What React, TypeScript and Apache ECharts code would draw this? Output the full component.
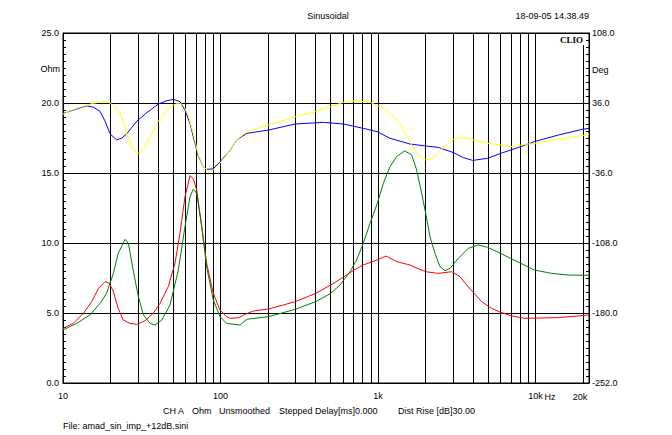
import React, { useEffect, useRef } from "react";
import * as echarts from "echarts";

// ---- data ----
const redFreq = [10, 11.6, 13.5, 15.2, 16.8, 18.5, 19.7, 20.9, 22.4, 24.1, 26.6, 29.4, 33.2, 37.4, 41.3, 46.6, 51.4, 55.3, 59.5, 64.0, 67.2, 70.6, 76.0, 81.7, 90.0, 99.3, 109.4, 115, 127, 133, 140, 161.6, 202, 250, 298, 402, 501, 602, 704, 806, 990, 1124, 1314, 1597, 1717, 2009, 2415, 2938, 3316, 3658, 3993, 4554, 5272, 6012, 6958, 8577, 13956, 18700, 21870];
const redOhm = [3.9, 4.26, 4.98, 5.8, 6.76, 7.24, 7.12, 6.52, 5.33, 4.5, 4.26, 4.19, 4.45, 4.98, 5.69, 6.88, 8.55, 10.7, 13.3, 14.8, 14.6, 13.8, 11.2, 8.55, 6.4, 5.2, 4.74, 4.62, 4.65, 4.7, 4.86, 5.14, 5.29, 5.57, 5.81, 6.4, 7.0, 7.55, 8.07, 8.43, 8.79, 9.07, 8.67, 8.43, 8.26, 7.95, 7.83, 7.95, 7.6, 7.0, 6.52, 5.81, 5.33, 5.05, 4.81, 4.62, 4.67, 4.79, 4.86];

const greenFreq = [10, 12.2, 14.8, 17.2, 18.9, 20.9, 22.4, 24.8, 26.0, 27.9, 30.1, 32.4, 35.7, 38.4, 42.4, 47.8, 54.0, 59.5, 64.0, 67.2, 70.6, 76.0, 81.7, 90.0, 99.3, 109.4, 133, 147, 202, 298, 402, 501, 574, 664, 732, 806, 890, 990, 1081, 1192, 1314, 1447, 1484, 1637, 1761, 1894, 2009, 2139, 2301, 2476, 2664, 2865, 3234, 3744, 4334, 4973, 6012, 6958, 8054, 9826, 12676, 16157, 21870];
const greenOhm = [3.79, 4.26, 4.86, 5.69, 6.4, 7.84, 9.26, 10.26, 9.98, 8.07, 6.17, 4.86, 4.26, 4.14, 4.5, 5.57, 8.07, 11.16, 13.3, 13.84, 13.55, 11.16, 8.3, 5.93, 4.74, 4.26, 4.14, 4.55, 4.74, 5.26, 5.81, 6.4, 7.0, 7.95, 8.79, 9.98, 11.4, 12.83, 14.26, 15.45, 16.17, 16.52, 16.57, 16.29, 15.21, 13.55, 12.12, 10.45, 9.26, 8.31, 8.02, 8.19, 8.9, 9.62, 9.86, 9.69, 9.26, 8.9, 8.55, 8.07, 7.83, 7.71, 7.69];

const blueFreq = [10, 12.8, 14.1, 15.6, 17.2, 18.5, 19.9, 21.9, 23.6, 25.4, 29.4, 34.0, 40.3, 45.5, 50.1, 55.3, 59.5, 64.0, 68.9, 72.3, 77.8, 81.7, 90.0, 99.3, 114.8, 126.8, 146.7, 202, 298, 450, 602, 806, 990, 1192, 1597, 2009, 2415, 3024, 3480, 3993, 4973, 6012, 6958, 8054, 9826, 13956, 19830, 21870];
const blueOhm = [19.25, 19.65, 19.8, 19.7, 19.4, 18.7, 17.8, 17.36, 17.5, 17.8, 18.7, 19.3, 19.93, 20.16, 20.26, 20.1, 19.5, 18.55, 17.1, 16.2, 15.45, 15.26, 15.3, 15.8, 16.6, 17.36, 17.83, 18.07, 18.5, 18.62, 18.5, 18.19, 17.95, 17.48, 17.07, 16.93, 16.83, 16.45, 16.1, 15.9, 16.05, 16.4, 16.64, 16.88, 17.24, 17.71, 18.12, 18.19];

const yellowFreq = [10, 11.1, 12.8, 15.6, 18.0, 19.9, 21.9, 23.6, 25.4, 27.3, 29.6, 32.4, 35.7, 40.3, 45.5, 50.1, 54.7, 58.0, 62.5, 67.2, 72.3, 77.8, 83.7, 90.0, 99.3, 114.8, 126.8, 146.7, 202, 298, 402, 501, 602, 732, 890, 1030, 1192, 1379, 1484, 1637, 1803, 2009, 2245, 2538, 3024, 3480, 3993, 4973, 6012, 6958, 8054, 9826, 13956, 19830, 21870];
const yellowOhm = [19.2, 19.45, 19.7, 19.98, 20.1, 20.0, 19.6, 19.0, 17.8, 16.9, 16.35, 16.7, 17.6, 18.7, 19.45, 19.86, 20.0, 19.86, 19.1, 17.8, 16.3, 15.45, 15.14, 15.2, 15.7, 16.6, 17.36, 17.95, 18.43, 19.02, 19.38, 19.74, 20.05, 20.16, 20.05, 19.74, 19.26, 18.55, 17.85, 17.0, 16.29, 15.93, 16.05, 16.76, 17.4, 17.55, 17.36, 17.12, 17.0, 16.88, 17.0, 17.12, 17.4, 17.67, 17.76];

const gridFreqs = [20, 30, 40, 50, 60, 70, 80, 90, 100, 200, 300, 400, 500, 600, 700, 800, 900, 1000, 2000, 3000, 4000, 5000, 6000, 7000, 8000, 9000, 10000, 20000];
const xLabels: Record<number, string> = { 10: "10", 100: "100", 1000: "1k", 10000: "10k" };
const degMin = -252;
const degPerOhm = 14.4;

const FONT = "'Liberation Sans', Arial, sans-serif";

function pairs(f: number[], v: number[]) {
  return f.map((x, i) => [x, v[i]]);
}

function txt(text: string, x: number, y: number, align: string = "left", extra: any = {}) {
  return {
    type: "text",
    x,
    y,
    z: 100,
    style: {
      text,
      fill: "#000",
      font: `9px ${FONT}`,
      textAlign: align,
      textVerticalAlign: "middle",
      ...extra,
    },
  };
}

export default function App() {
  const ref = useRef<HTMLDivElement>(null);
  useEffect(() => {
    document.body.style.margin = "0";
    const chart = echarts.init(ref.current!, null, { renderer: "svg" });
    const lineSeries = (name: string, color: string, data: number[][]) => ({
      name,
      type: "line",
      data,
      symbol: "none",
      z: 3,
      lineStyle: { color, width: 1 },
      itemStyle: { color },
    });
    chart.setOption({
      animation: false,
      backgroundColor: "#fff",
      grid: {
        left: 63,
        right: 83,
        top: 33,
        bottom: 52,
        show: true,
        borderColor: "#000",
        borderWidth: 1,
        backgroundColor: "transparent",
      },
      xAxis: {
        type: "log",
        logBase: 10,
        min: 10,
        max: 21870,
        axisLine: { show: true, lineStyle: { color: "#000", width: 1 } },
        axisTick: { show: false },
        splitLine: { show: false },
        axisLabel: {
          color: "#000",
          fontFamily: FONT,
          fontSize: 9,
          margin: 8,
          showMaxLabel: false,
          formatter: (v: number) => xLabels[Math.round(v)] ?? "",
        },
      },
      yAxis: [
        {
          type: "value",
          min: 0,
          max: 25,
          interval: 5,
          position: "left",
          axisLine: { show: true, lineStyle: { color: "#000", width: 1 } },
          axisTick: { show: true, inside: true, length: 3, lineStyle: { color: "#000" } },
          minorTick: { show: true, splitNumber: 10, length: 3, lineStyle: { color: "#000" } },
          splitLine: { show: true, lineStyle: { color: "#000", width: 1 } },
          axisLabel: {
            color: "#000",
            fontFamily: FONT,
            fontSize: 9,
            margin: 4,
            formatter: (v: number) => v.toFixed(1),
          },
        },
        {
          type: "value",
          min: 0,
          max: 25,
          interval: 5,
          position: "right",
          axisLine: { show: true, lineStyle: { color: "#000", width: 1 } },
          axisTick: { show: true, inside: true, length: 3, lineStyle: { color: "#000" } },
          minorTick: { show: true, splitNumber: 10, length: 3, lineStyle: { color: "#000" } },
          splitLine: { show: false },
          axisLabel: {
            color: "#000",
            fontFamily: FONT,
            fontSize: 9,
            margin: 3,
            formatter: (v: number) => (degMin + v * degPerOhm).toFixed(1),
          },
        },
      ],
      series: [
        {
          name: "grid",
          type: "line",
          data: [],
          z: 1,
          markLine: {
            z: 1,
            silent: true,
            symbol: "none",
            animation: false,
            label: { show: false },
            lineStyle: { color: "#000", width: 1, type: "solid" },
            emphasis: { disabled: true },
            data: gridFreqs.map((f) => ({ xAxis: f })),
          },
        },
        lineSeries("red", "#ff0000", pairs(redFreq, redOhm)),
        lineSeries("green", "#008000", pairs(greenFreq, greenOhm)),
        lineSeries("blue", "#0000ff", pairs(blueFreq, blueOhm)),
        lineSeries("yellow", "#ffff00", pairs(yellowFreq, yellowOhm)),
      ],
      graphic: [
        { type: "rect", z: 99, shape: { x: 558, y: 34, width: 27, height: 11 }, style: { fill: "#fff" } },
        txt("CLIO", 583, 39.5, "right", { font: `bold 9px 'Liberation Serif', 'Times New Roman', serif` }),
        txt("Sinusoidal", 328, 16, "center"),
        txt("18-09-05 14.38.49", 589, 16, "right"),
        txt("Ohm", 60, 69, "right"),
        txt("Deg", 592, 70, "left"),
        txt("Hz", 550, 397, "center"),
        txt("20k", 580, 397, "center"),
        txt("CH A", 163, 411),
        txt("Ohm", 192, 411),
        txt("Unsmoothed", 219, 411),
        txt("Stepped", 279, 411),
        txt("Delay[ms]0.000", 315, 411),
        txt("Dist Rise [dB]30.00", 398, 411),
        txt("File: amad_sin_imp_+12dB.sini", 63, 426),
      ],
    });
    return () => chart.dispose();
  }, []);
  return <div ref={ref} style={{ width: 672, height: 435 }} />;
}
